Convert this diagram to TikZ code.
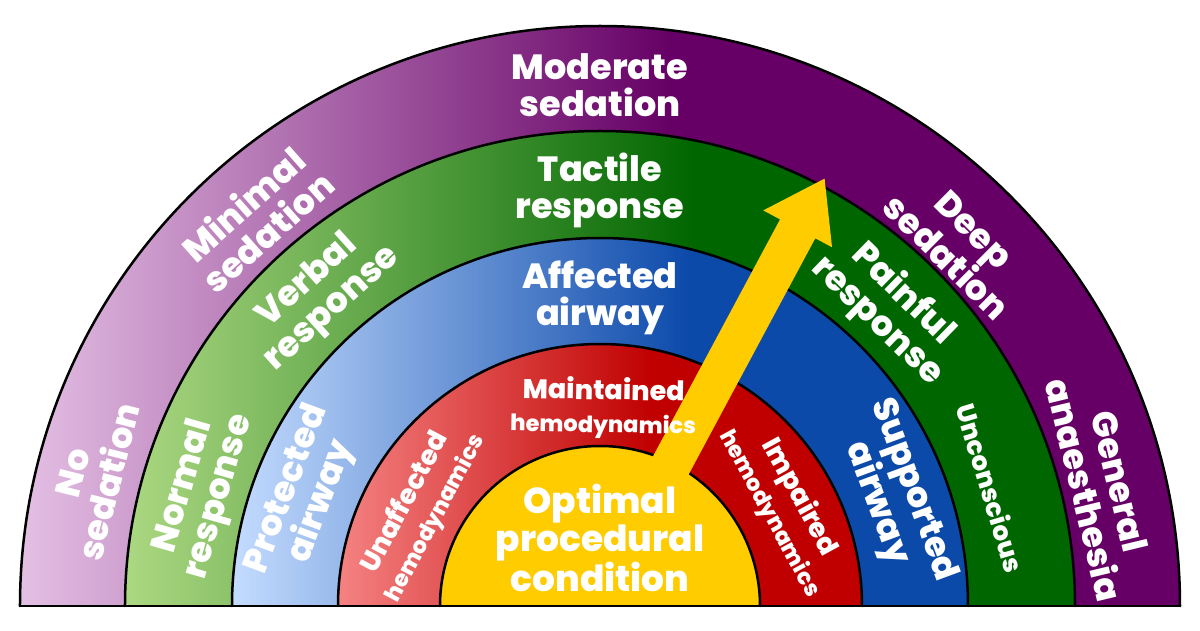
\documentclass[tikz,border=0pt]{standalone}
\usepackage{fontspec}
\setmainfont{Poppins}[BoldFont={Poppins ExtraBold}]
\usetikzlibrary{calc}
\definecolor{plumL}{RGB}{228,192,228}
\definecolor{plumD}{RGB}{102,0,102}
\definecolor{leafL}{RGB}{172,216,130}
\definecolor{leafD}{RGB}{0,102,0}
\definecolor{skyL}{RGB}{196,220,255}
\definecolor{skyD}{RGB}{12,74,170}
\definecolor{rubyL}{RGB}{245,130,130}
\definecolor{rubyD}{RGB}{192,0,0}
\definecolor{sun}{RGB}{255,204,0}
\pgfdeclarehorizontalshading{plumfade}{100bp}{color(0bp)=(plumL); color(25bp)=(plumL); color(53bp)=(plumD); color(100bp)=(plumD)}
\pgfdeclarehorizontalshading{leaffade}{100bp}{color(0bp)=(leafL); color(25bp)=(leafL); color(55bp)=(leafD); color(100bp)=(leafD)}
\pgfdeclarehorizontalshading{skyfade}{100bp}{color(0bp)=(skyL); color(25bp)=(skyL); color(56bp)=(skyD); color(100bp)=(skyD)}
\pgfdeclarehorizontalshading{rubyfade}{100bp}{color(0bp)=(rubyL); color(25bp)=(rubyL); color(55bp)=(rubyD); color(100bp)=(rubyD)}
\begin{document}
\begin{tikzpicture}[x=1pt,y=1pt,line join=round,line cap=round,
	lab/.style={text=white,align=center,inner sep=0pt,font=\bfseries\fontsize{35}{37}\selectfont},
	small/.style={lab,font=\bfseries\fontsize{26}{28}\selectfont}]
	\useasboundingbox (-600,-24) rectangle (600,606);
	\path
	(63,126)coordinate(S)++(61.8:285)coordinate(H)++(61.8:57)coordinate(T)
	(S)++(-28.2:20)coordinate(S1) (S)++(151.8:20)coordinate(S2)
	(H)++(-28.2:20)coordinate(H1) (H)++(151.8:20)coordinate(H2)
	(H)++(-28.2:39)coordinate(W1) (H)++(151.8:39)coordinate(W2)
	;
	%%Các dải
	\foreach \r/\s in {580/plumfade,475/leaffade,368/skyfade,262/rubyfade}{
		\shade[shading=\s] (-\r,0) arc(180:0:\r) -- cycle;
	}
	\fill[sun] (-160,0) arc(180:0:160) -- cycle;
	\foreach \r in {580,475,368,262,160}{
		\draw[line width=2.5pt] (-\r,0) arc(180:0:\r);
	}
	\draw[line width=2.5pt] (-580,0)--(580,0);
	%%Mũi tên
	\fill[sun] (S1)--(H1)--(W1)--(T)--(W2)--(H2)--(S2)--cycle;
	%%Chữ
	\foreach \a/\r/\t [count=\i] in {165.8/525/{No\\sedation},131.6/519/{Minimal\\sedation},90/521/{Moderate\\sedation},45.2/511/{Deep\\sedation},13.5/516/{General\\anaesthesia},
		164/414/{Normal\\response},132/418/{Verbal\\response},90/416/{Tactile\\response},45.8/416/{Painful\\response},
		159.5/315/{Protected\\airway},90/308/{Affected\\airway},20.3/314/{Supported\\airway}}{
		\node[lab,rotate=\a-90] (L\i) at (\a:\r) {\t};
	}
	\node[small,rotate=-73.2] (U) at (16.8:408) {Unconscious};
	\foreach \a/\r/\t [count=\i] in {152/204/Unaffected,89/198/Maintained,28.6/211/Impaired}{
		\node[lab,rotate=\a-90] (R\i) at (\a:\r) {{\fontsize{27}{28}\selectfont\t}\\[-4pt]{\fontsize{22.5}{23}\selectfont hemodynamics}};
	}
	\node[lab,font=\bfseries\fontsize{36}{38}\selectfont] (Y) at (0,68) {Optimal\\procedural\\condition};
\end{tikzpicture}
\end{document}
